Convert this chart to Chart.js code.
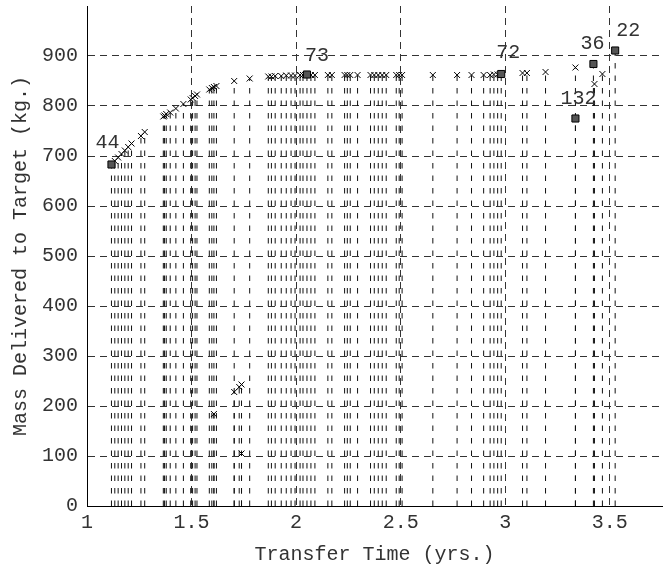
<!DOCTYPE html>
<html>
<head>
<meta charset="utf-8">
<script src="https://cdn.jsdelivr.net/npm/chart.js@4.4.0/dist/chart.umd.min.js"></script>
<style>
  body { margin: 0; background: #fff; }
  #caixa { width: 668px; height: 569px; }
</style>
</head>
<body>
<div id="caixa"><canvas id="graficoMassa"></canvas></div>
<script>
// transfer time (yrs) and mass delivered (kg) of every trajectory
const transferTime = [
  1.117, 1.133, 1.149, 1.165, 1.181, 1.197, 1.213, 1.258, 1.276,
  1.365, 1.371, 1.379, 1.398, 1.425, 1.461, 1.496, 1.505, 1.517, 1.526,
  1.585, 1.597, 1.607, 1.619,
  1.704, 1.778,
  1.867, 1.882, 1.900, 1.929,
  1.953, 1.976, 1.995, 2.019,
  2.033, 2.052, 2.071, 2.090,
  2.152, 2.171,
  2.232, 2.245, 2.259, 2.294,
  2.356, 2.374, 2.393, 2.412, 2.431,
  2.479, 2.493, 2.507,
  2.654, 2.770, 2.839,
  2.897, 2.928, 2.946, 2.964, 2.981,
  3.083, 3.104, 3.193, 3.336, 3.422, 3.465, 3.526,
  1.607, 1.704, 1.728, 1.739, 1.739, 3.336, 3.427
];
const massDelivered = [
  683, 690, 697, 704, 711, 718, 725, 740, 748,
  779, 781, 784, 787, 795, 804, 813, 816, 820, 823,
  833, 836, 838, 840,
  850, 855,
  859, 859, 860, 860,
  861, 861, 861, 862,
  862, 863, 862, 862,
  862, 862,
  862, 862, 862, 862,
  862, 862, 862, 862, 862,
  862, 862, 862,
  862, 862, 862,
  862, 862, 863, 863, 864,
  866, 866, 868, 877, 884, 864, 911,
  184, 228, 238, 243, 105, 775, 844
];

// marked (boxed) trajectories and their numbers
const markedTime = [1.117, 2.052, 2.981, 3.422, 3.526, 3.336];
const markedMass = [683, 863, 864, 884, 911, 775];
const markedLabel = ['44', '73', '72', '36', '22', '132'];

const xTicks = [1, 1.5, 2, 2.5, 3, 3.5];
const yTicks = [0, 100, 200, 300, 400, 500, 600, 700, 800, 900];

const fonte = { family: '"Liberation Mono", "Courier New", monospace', size: 20 };
const corTexto = '#333';

function montaImpulsos(xs, ys) {
  const pontos = [];
  xs.forEach((x, i) => {
    pontos.push({ x: x, y: 0 });
    pontos.push({ x: x, y: ys[i] });
    pontos.push({ x: x, y: null });
  });
  return pontos;
}

function juntaPontos(xs, ys) {
  return xs.map((x, i) => ({ x: x, y: ys[i] }));
}

const rotulos = {
  id: 'rotulos',
  afterDatasetsDraw(chart, args, opts) {
    const { ctx, scales: { x, y } } = chart;
    ctx.save();
    ctx.font = fonte.size + 'px ' + fonte.family;
    ctx.fillStyle = corTexto;
    ctx.textAlign = 'center';
    ctx.textBaseline = 'middle';
    markedLabel.forEach((txt, i) => {
      const d = opts.desloc[i];
      ctx.fillText(txt, x.getPixelForValue(markedTime[i]) + d[0], y.getPixelForValue(markedMass[i]) + d[1]);
    });
    ctx.restore();
  }
};

const graficoMassa = new Chart(document.getElementById('graficoMassa'), {
  type: 'scatter',
  data: {
    datasets: [
      {
        label: 'caixas',
        data: juntaPontos(markedTime, markedMass),
        pointStyle: 'rect',
        pointRadius: 5,
        backgroundColor: '#555',
        borderColor: '#000',
        borderWidth: 1,
        order: 1
      },
      {
        label: 'massa',
        data: juntaPontos(transferTime, massDelivered),
        pointStyle: 'crossRot',
        pointRadius: 4.2,
        borderColor: '#000',
        borderWidth: 1,
        order: 2
      },
      {
        label: 'impulsos',
        data: montaImpulsos(transferTime, massDelivered),
        showLine: true,
        spanGaps: false,
        pointRadius: 0,
        borderColor: '#111',
        borderWidth: 1,
        borderDash: [5.5, 7],
        order: 3
      }
    ]
  },
  options: {
    responsive: true,
    maintainAspectRatio: false,
    animation: false,
    layout: { padding: { top: 5, right: 0, left: 0, bottom: 0 } },
    plugins: {
      legend: { display: false },
      tooltip: { enabled: false },
      rotulos: { desloc: [[-4, -22], [10, -19], [7, -21], [-1, -20], [13, -20], [3, -20]] }
    },
    scales: {
      x: {
        type: 'linear',
        min: 1,
        max: 3.75,
        afterBuildTicks: s => { s.ticks = xTicks.map(v => ({ value: v })); },
        afterFit: s => { s.height = 63; s.paddingLeft = 0; s.paddingRight = 0; },
        ticks: { font: fonte, color: corTexto, padding: 5, maxRotation: 0, callback: v => String(v) },
        grid: { color: '#333', lineWidth: 1, drawTicks: false },
        border: { display: true, color: '#000', width: 1, dash: [7, 5] },
        title: { display: true, text: 'Transfer Time (yrs.)', font: fonte, color: corTexto, padding: { top: 0, bottom: 2 } }
      },
      y: {
        type: 'linear',
        min: 0,
        max: 1000,
        afterBuildTicks: s => { s.ticks = yTicks.map(v => ({ value: v })); },
        afterFit: s => { s.width = 87; s.paddingTop = 0; s.paddingBottom = 0; },
        ticks: { font: fonte, color: corTexto, padding: 9, callback: v => String(v) },
        grid: { color: '#333', lineWidth: 1, drawTicks: false },
        border: { display: true, color: '#000', width: 1, dash: [7, 5] },
        title: { display: true, text: 'Mass Delivered to Target (kg.)', font: fonte, color: corTexto, padding: { top: 9, bottom: 0 } }
      }
    }
  },
  plugins: [rotulos]
});
</script>
</body>
</html>
